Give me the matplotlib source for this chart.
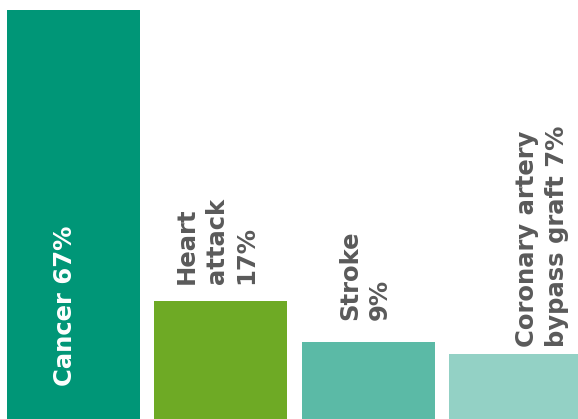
import matplotlib
matplotlib.use("Agg")
import matplotlib.pyplot as plt

# Data
labels = ["Cancer 67%", "Heart\nattack\n17%", "Stroke\n9%", "Coronary artery\nbypass graft 7%"]
heights = [409, 118, 77, 65]   # bar heights as drawn (not to scale with the percentages)
colors = ["#009677", "#6eaa25", "#5bbaa6", "#93d1c5"]

# label placement tweaks (points)
dx = [-6, -3, -2, 19]
dy = [0, 12, 16, 5]

fig = plt.figure(figsize=(5.78, 4.19), dpi=100)
ax = fig.add_axes([0, 0, 1, 1])

x = range(len(heights))
bars = ax.bar(x, heights, width=0.903, color=colors)

for i, b in enumerate(bars):
    cx = b.get_x() + b.get_width() / 2
    if i == 0:
        # white label inside the big bar
        ax.annotate(labels[i], (cx, 0), xytext=(dx[i], 24), textcoords="offset points",
                    rotation=90, ha="center", va="bottom", color="white",
                    fontsize=17.5, fontweight="bold")
    else:
        ax.annotate(labels[i], (cx, b.get_height()), xytext=(dx[i], dy[i]),
                    textcoords="offset points", rotation=90, ha="center", va="bottom",
                    color="#5a5a5a", fontsize=17.5, fontweight="bold",
                    multialignment="left", linespacing=1.3)

ax.set_xlim(-0.499, 3.425)
ax.set_ylim(0, 419)
ax.axis("off")

fig.savefig("out.png", dpi=100)
